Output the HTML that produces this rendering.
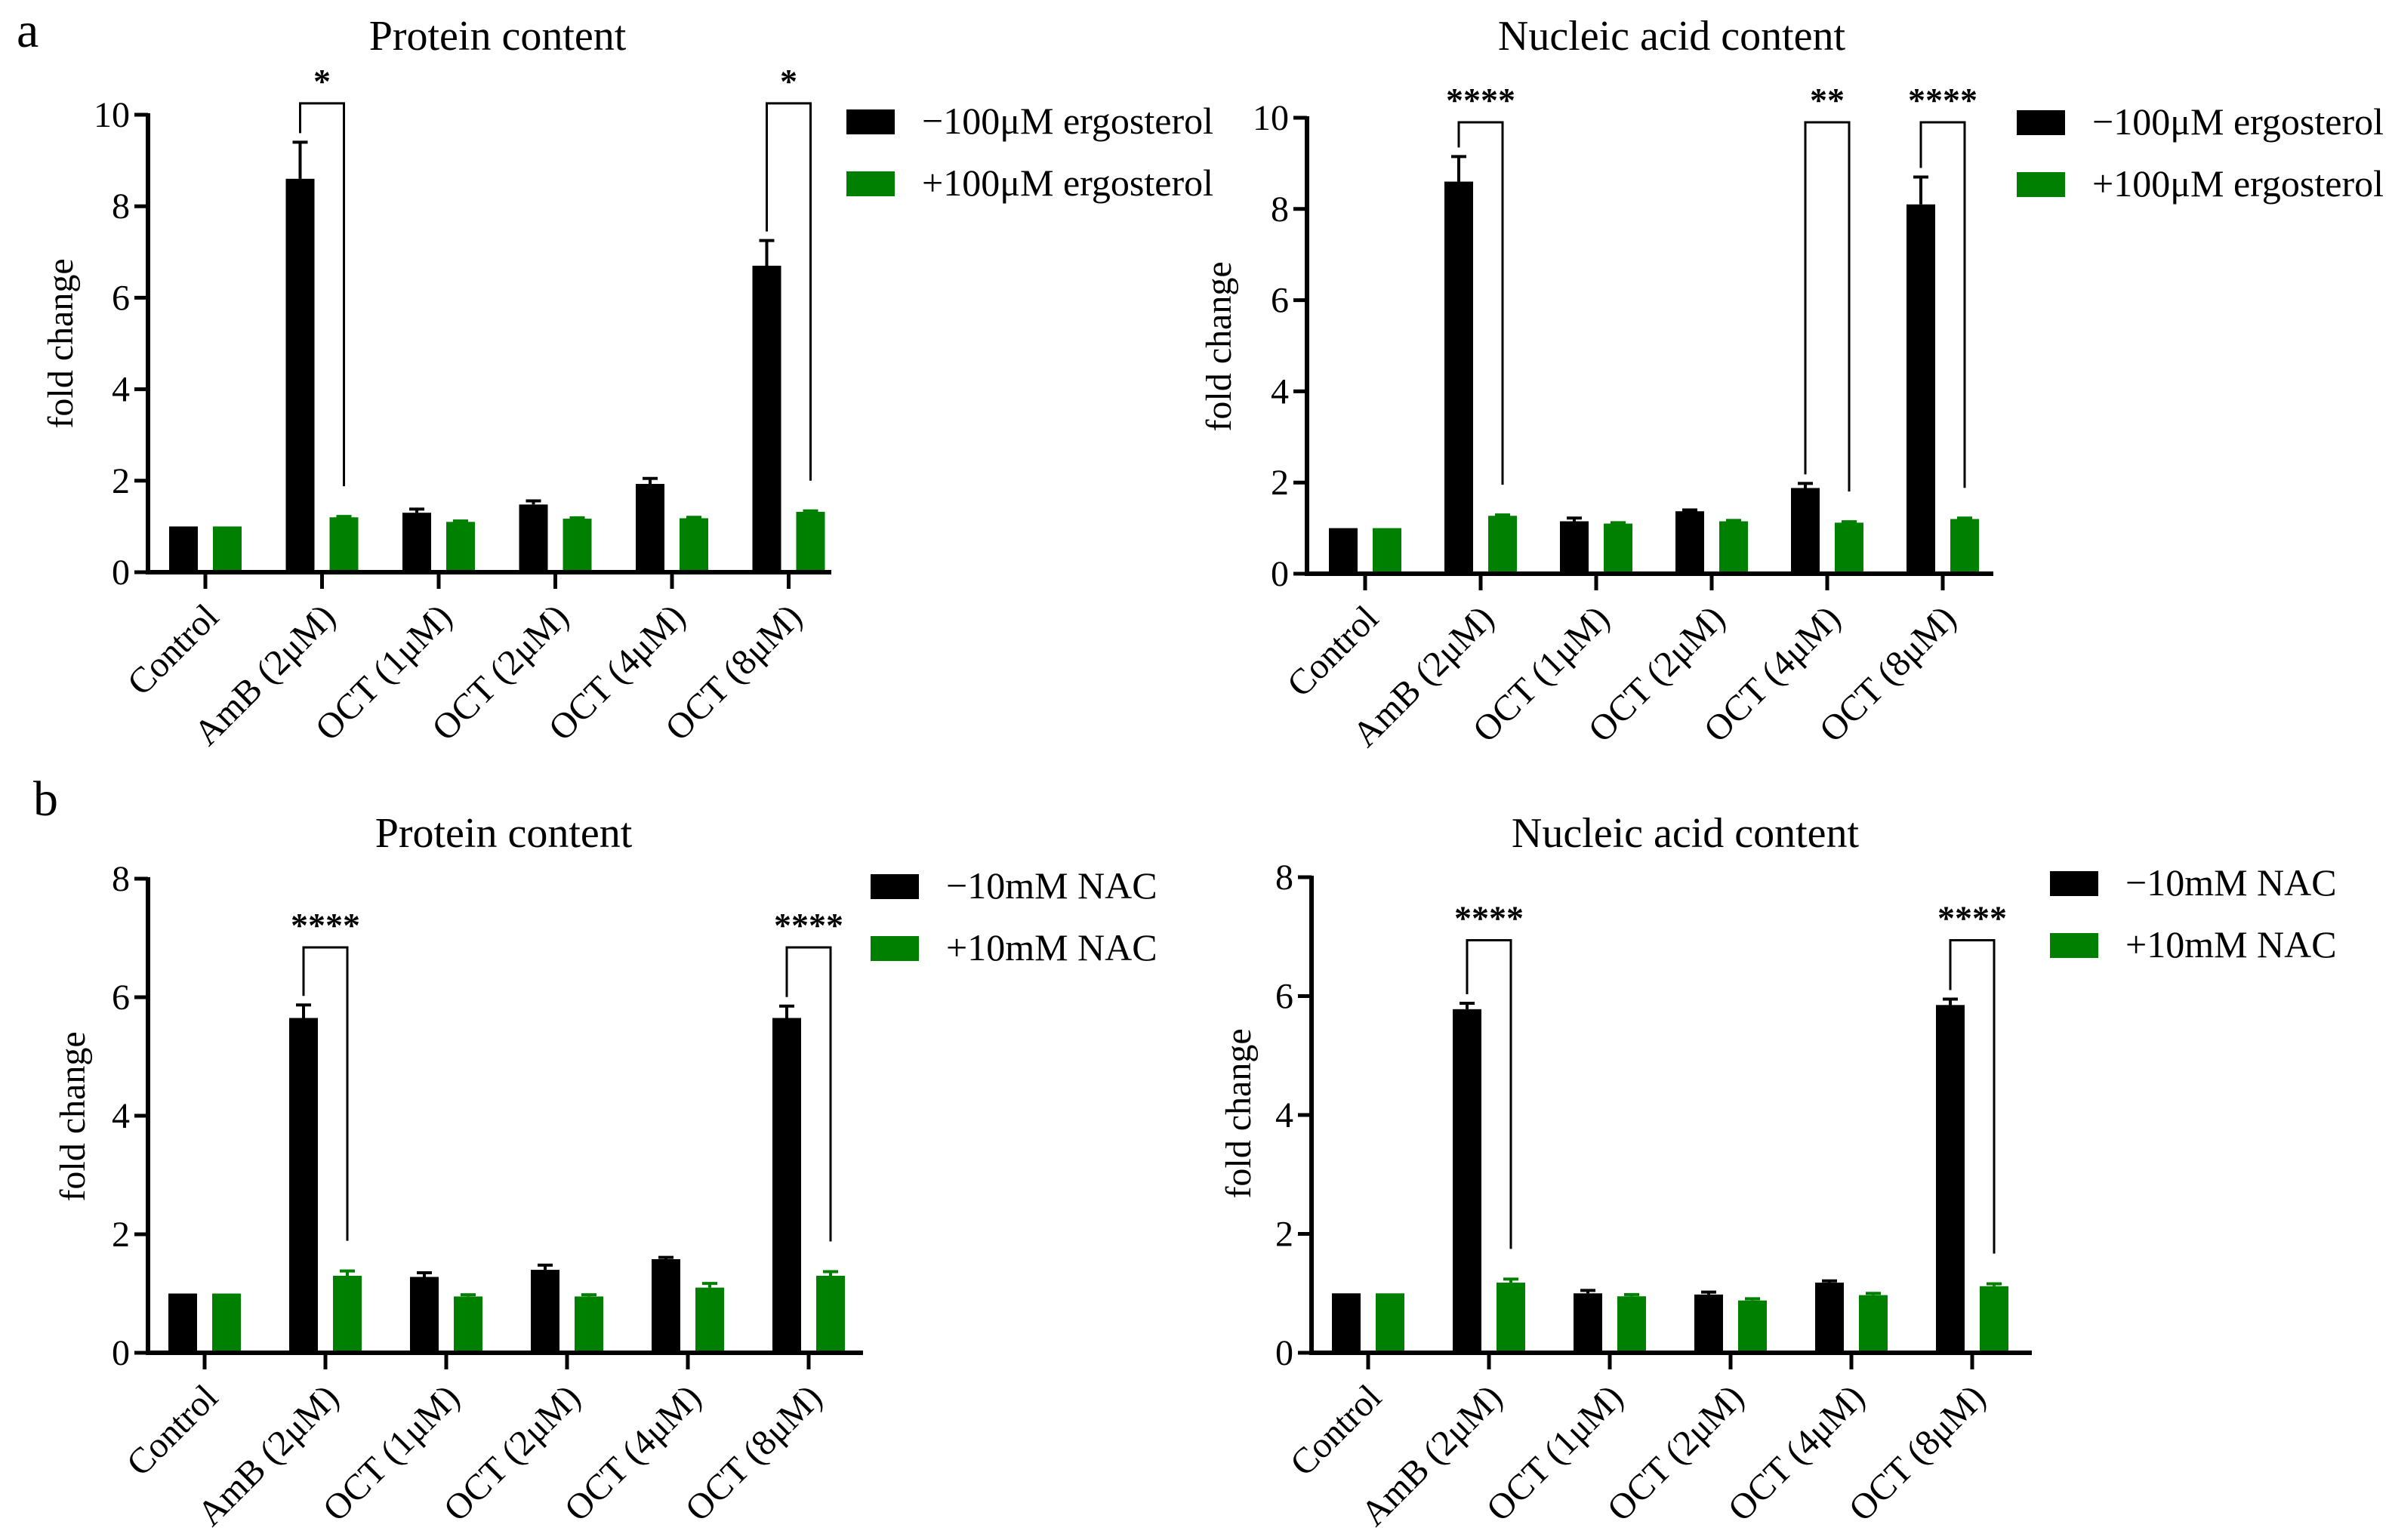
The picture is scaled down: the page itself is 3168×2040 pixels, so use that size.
<!DOCTYPE html>
<html><head><meta charset="utf-8"><style>
html,body{margin:0;padding:0;background:#fff}
svg{display:block;font-family:"Liberation Serif","Times New Roman",serif}
</style></head>
<body>
<svg id="fig" width="3168" height="2040" viewBox="0 0 3168 2040" xmlns="http://www.w3.org/2000/svg">
<text x="22" y="62" font-size="66">a</text>
<text x="44" y="1080" font-size="66">b</text>
</svg>
<script>
const categories = ["Control","AmB (2μM)","OCT (1μM)","OCT (2μM)","OCT (4μM)","OCT (8μM)"];
// Panel a - protein
const aProtMinus = [1, 8.6, 1.3, 1.48, 1.93, 6.7];
const aProtMinusErr = [0, 0.8, 0.08, 0.08, 0.12, 0.55];
const aProtPlus = [1, 1.2, 1.1, 1.17, 1.18, 1.32];
const aProtPlusErr = [0, 0.02, 0.02, 0.02, 0.02, 0.02];
const aProtSig = [[1,"*"],[5,"*"]];
const aProtTicks = [0,2,4,6,8,10];
// Panel a - nucleic
const aNucMinus = [1, 8.6, 1.15, 1.37, 1.88, 8.1];
const aNucMinusErr = [0, 0.55, 0.07, 0.03, 0.1, 0.6];
const aNucPlus = [1, 1.27, 1.1, 1.15, 1.12, 1.2];
const aNucPlusErr = [0, 0.02, 0.02, 0.02, 0.02, 0.02];
const aNucSig = [[1,"****"],[4,"**"],[5,"****"]];
const aNucTicks = [0,2,4,6,8,10];
// Panel b - protein
const bProtMinus = [1, 5.65, 1.28, 1.4, 1.58, 5.65];
const bProtMinusErr = [0, 0.22, 0.07, 0.08, 0.03, 0.2];
const bProtPlus = [1, 1.3, 0.95, 0.95, 1.1, 1.3];
const bProtPlusErr = [0, 0.08, 0.03, 0.03, 0.07, 0.07];
const bProtSig = [[1,"****"],[5,"****"]];
const bProtTicks = [0,2,4,6,8];
// Panel b - nucleic
const bNucMinus = [1, 5.78, 1.0, 0.98, 1.18, 5.85];
const bNucMinusErr = [0, 0.1, 0.05, 0.04, 0.03, 0.1];
const bNucPlus = [1, 1.18, 0.95, 0.88, 0.97, 1.12];
const bNucPlusErr = [0, 0.06, 0.03, 0.03, 0.03, 0.04];
const bNucSig = [[1,"****"],[5,"****"]];
const bNucTicks = [0,2,4,6,8];

const NS="http://www.w3.org/2000/svg";
const svg=document.getElementById('fig');
function mk(tag,attrs,parent){const e=document.createElementNS(NS,tag);for(const k in attrs)e.setAttribute(k,attrs[k]);(parent||svg).appendChild(e);return e;}

function panel(cfg){
  const g=mk('g',{});
  
  
  const ymax=cfg.ticks[cfg.ticks.length-1];
  const Y=v=>cfg.zero-(cfg.zero-cfg.top)*v/ymax;
  const X=i=>cfg.cat0+i*cfg.step;
  const bw=38, off=29;
  const t=mk('text',{x:cfg.titleX,y:cfg.titleY,'font-size':56,'text-anchor':'middle'},g);
  t.textContent=cfg.title;
  
  
  const yl=mk('text',{x:0,y:0,'font-size':48,'text-anchor':'middle',transform:`translate(${cfg.ylabX},${cfg.ylabY}) rotate(-90)`},g);
  yl.textContent='fold change';
  
  
  const series=[[cfg.minus,cfg.minusErr,'#000',-off,'bar-minus'],[cfg.plus,cfg.plusErr,'#008000',off,'bar-plus']];
  series.forEach(([vals,errs,col,o,nm])=>{
    vals.forEach((v,i)=>{
      const cx=X(i)+o;
      const r=mk('rect',{x:cx-bw/2,y:Y(v),width:bw,height:cfg.zero-Y(v),fill:col},g);
      
      
      if(errs[i]>0){
        const ye=Y(v+errs[i]);
        const l=mk('path',{d:`M${cx} ${Y(v)}V${ye}M${cx-10} ${ye}H${cx+10}`,stroke:col,'stroke-width':4,fill:'none'},g);
        
        
      }
    });
  });
  const ax=mk('path',{d:`M${cfg.axisX} ${cfg.top-2}V${cfg.zero}H${cfg.axisEnd}`,stroke:'#000','stroke-width':6,fill:'none'},g);
  
  
  cfg.ticks.forEach(v=>{
    const tk=mk('path',{d:`M${cfg.axisX-18} ${Y(v)}H${cfg.axisX}`,stroke:'#000','stroke-width':5},g);
    
    
    const tl=mk('text',{x:cfg.axisX-24,y:Y(v)+16,'font-size':48,'text-anchor':'end'},g);
    tl.textContent=v;
    
    
  });
  categories.forEach((c,i)=>{
    const tk=mk('path',{d:`M${X(i)} ${cfg.zero}V${cfg.zero+22}`,stroke:'#000','stroke-width':5},g);
    
    
    const tl=mk('text',{x:0,y:0,'font-size':48,'text-anchor':'end',transform:`translate(${X(i)+20},${cfg.zero+62}) rotate(-45)`},g);
    tl.textContent=c;
    
    
  });
  cfg.sig.forEach(([i,s])=>{
    const xl=X(i)-off, xr=X(i)+off;
    const yTop=Y(cfg.sigTop);
    const yl1=Y(cfg.minus[i]+cfg.minusErr[i])-12;
    const yr1=Y(cfg.plus[i]+cfg.plusErr[i])-40;
    const b=mk('path',{d:`M${xl} ${yl1}V${yTop}H${xr}V${yr1}`,stroke:'#000','stroke-width':3,fill:'none'},g);
    
    
    const st=mk('text',{x:X(i),y:yTop-14,'font-size':46,'font-weight':'bold','text-anchor':'middle'},g);
    st.textContent=s;
    
    
  });
  cfg.legend.forEach((lab,k)=>{
    const y=cfg.legY+k*82;
    const r=mk('rect',{x:cfg.legX,y:y,width:64,height:33,fill:k?'#008000':'#000'},g);
    
    
    const tx=mk('text',{x:cfg.legX+100,y:y+32,'font-size':50},g);
    tx.textContent=lab;
    
    
  });
}

panel({name:'panel-a-protein',title:'Protein content',titleX:659,titleY:66,ylabX:96,ylabY:455,
  axisX:196,top:152,zero:758,cat0:272,step:154.5,axisEnd:1101,ticks:aProtTicks,
  minus:aProtMinus,minusErr:aProtMinusErr,plus:aProtPlus,plusErr:aProtPlusErr,sig:aProtSig,sigTop:10.25,
  legX:1121,legY:145,legend:['−100μM ergosterol','+100μM ergosterol']});
panel({name:'panel-a-nucleic',title:'Nucleic acid content',titleX:2214,titleY:66,ylabX:1630,ylabY:459,
  axisX:1731,top:156,zero:760,cat0:1808,step:153,axisEnd:2640,ticks:aNucTicks,
  minus:aNucMinus,minusErr:aNucMinusErr,plus:aNucPlus,plusErr:aNucPlusErr,sig:aNucSig,sigTop:9.9,
  legX:2671,legY:146,legend:['−100μM ergosterol','+100μM ergosterol']});
panel({name:'panel-b-protein',title:'Protein content',titleX:667,titleY:1122,ylabX:112,ylabY:1479,
  axisX:196,top:1164,zero:1792,cat0:271,step:160,axisEnd:1143,ticks:bProtTicks,
  minus:bProtMinus,minusErr:bProtMinusErr,plus:bProtPlus,plusErr:bProtPlusErr,sig:bProtSig,sigTop:6.84,
  legX:1153,legY:1158,legend:['−10mM NAC','+10mM NAC']});
panel({name:'panel-b-nucleic',title:'Nucleic acid content',titleX:2232,titleY:1122,ylabX:1656,ylabY:1475,
  axisX:1737,top:1162,zero:1792,cat0:1812,step:160,axisEnd:2691,ticks:bNucTicks,
  minus:bNucMinus,minusErr:bNucMinusErr,plus:bNucPlus,plusErr:bNucPlusErr,sig:bNucSig,sigTop:6.94,
  legX:2715,legY:1154,legend:['−10mM NAC','+10mM NAC']});
</script>
</body></html>
